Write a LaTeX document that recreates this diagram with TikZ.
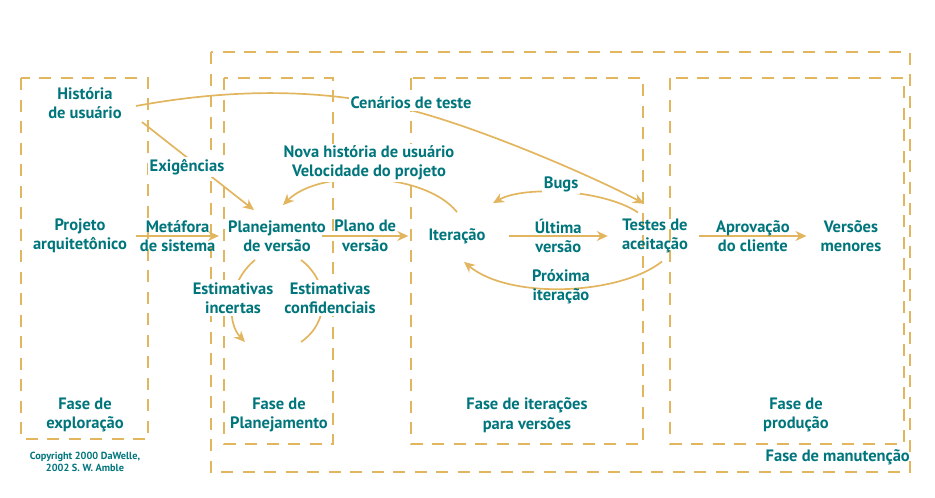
\documentclass[tikz,border=0pt]{standalone}
\usepackage{fontspec}
\setmainfont{PT Sans}
\usepackage{xcolor}
\usetikzlibrary{arrows.meta,positioning}
\definecolor{xpgold}{RGB}{226,181,95}
\definecolor{xpteal}{RGB}{0,118,124}

\begin{document}
\begin{tikzpicture}[x=1pt,y=-1pt,
    lbl/.style={text=xpteal, font=\fontsize{16.5}{19.5}\selectfont\bfseries, align=center, inner sep=1pt},
    tiny/.style={text=xpteal, font=\fontsize{10.3}{12}\selectfont\bfseries, align=center, inner sep=1pt},
    cut/.style={fill=white, inner sep=2pt},
    phase/.style={draw=xpgold, line width=2pt, dash pattern=on 12pt off 9.5pt},
    arc/.style={draw=xpgold, line width=1.7pt},
    flow/.style={arc, -{Stealth[length=11pt,width=10pt]}}]
    \useasboundingbox (0,0) rectangle (935,498);
    % phases
    \draw[phase] (211,52) rectangle (910,472);
    \draw[phase] (21,78) rectangle (148,439);
    \draw[phase] (224,78) rectangle (333,444);
    \draw[phase] (411,78) rectangle (643,444);
    \draw[phase] (670,78) rectangle (904,444);
    \node[lbl] (fexp) at (85,415) {Fase de\\exploração};
    \node[lbl] (fplan) at (279,415) {Fase de\\Planejamento};
    \node[lbl] (fiter) at (527,415) {Fase de iterações\\para versões};
    \node[lbl] (fprod) at (796,415) {Fase de\\produção};
    \node[lbl, anchor=east] (fman) at (911,457) {Fase de manutenção};
    \node[tiny] (copy) at (85,462) {Copyright 2000 DaWelle,\\2002 S. W. Amble};
    % main flow
    \node[lbl] (hist) at (85,103) {História\\de usuário};
    \node[lbl] (proj) at (80,236) {Projeto\\arquitetônico};
    \node[lbl] (plan) at (277,236) {Planejamento\\de versão};
    \node[lbl] (iter) at (457,236) {Iteração};
    \node[lbl] (test) at (655,236) {Testes de\\aceitação};
    \node[lbl] (vers) at (851,236) {Versões\\menores};
    \coordinate (incEnd) at (245,342);
    \coordinate (confEnd) at (301,342);
    \draw[flow] ([xshift=8pt]proj.east) -- node[lbl] (metaf) {Metáfora\\de sistema} ([xshift=-8pt]plan.west);
    \draw[flow] ([xshift=-5pt]plan.east) -- node[lbl] (plano) {Plano de\\versão} ([xshift=-19pt]iter.west);
    \draw[flow] ([xshift=22pt]iter.east) -- node[lbl] (ult) {Última\\versão} ([xshift=-13pt]test.west);
    \draw[flow] ([xshift=10pt]test.east) -- node[lbl] (aprov) {Aprovação\\do cliente} ([xshift=-13pt]vers.west);
    \draw[flow] ([shift={(19pt,-2pt)}]hist.south east) -- ([shift={(27pt,9pt)}]plan.north west);
    \draw[flow] ([shift={(13pt,-3pt)}]hist.east) .. controls (250,85) and (340,92) .. (410,110)
        .. controls (480,128) and (590,175) .. ([shift={(-11pt,14pt)}]test.north);
    \draw[flow] ([yshift=15pt]iter.north) .. controls (425,172) and (320,168) .. ([shift={(6pt,14pt)}]plan.north);
    \draw[flow] ([shift={(-17pt,5pt)}]test.north) .. controls (605,190) and (525,185) .. ([shift={(36pt,24pt)}]iter.north);
    \draw[flow] ([shift={(7pt,-7pt)}]test.south) .. controls (620,295) and (510,300) .. ([shift={(7pt,-17pt)}]iter.south);
    \draw[flow] ([shift={(-22pt,-7pt)}]plan.south) .. controls (228,282) and (226,322) .. (incEnd);
    \draw[arc] (confEnd) .. controls (330,322) and (330,282) .. ([shift={(24pt,-7pt)}]plan.south);
    % labels on the curves
    \node[lbl] (prox) at (561,287) {Próxima\\iteração};
    \node[lbl, cut] (exig) at (187,167) {Exigências};
    \node[lbl, cut] (cen) at (411,103) {Cenários de teste};
    \node[lbl, cut] (nova) at (369,163) {Nova história de usuário\\Velocidade do projeto};
    \node[lbl, cut] (bugs) at (561,184) {Bugs};
    \node[lbl, cut] (inc) at (233,298) {Estimativas\\incertas};
    \node[lbl, cut] (conf) at (330,298) {Estimativas\\confidenciais};
\end{tikzpicture}
\end{document}
